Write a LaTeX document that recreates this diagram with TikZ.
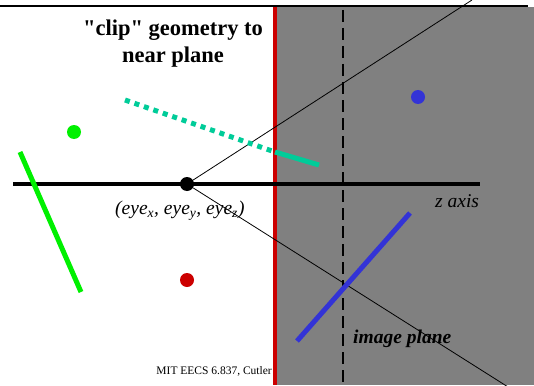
\documentclass[tikz,border=0pt]{standalone}
\usepackage{fontspec}
\setmainfont{Liberation Serif}[Ligatures=TeXOff]
\usepackage{tikz}
\usetikzlibrary{positioning}
\definecolor{planegray}{RGB}{128,128,128}
\definecolor{nearred}{RGB}{204,0,0}
\definecolor{objblue}{RGB}{51,51,214}
\definecolor{objgreen}{RGB}{0,240,0}
\definecolor{objteal}{RGB}{0,204,153}
\tikzset{
  dot/.style={circle,inner sep=0pt,minimum size=14pt},
  obj/.style={line width=5pt},
  ray/.style={line width=0.8pt},
  lbl/.style={font=\fontsize{19.5}{22}\selectfont\itshape,inner sep=0pt},
}
\begin{document}
\begin{tikzpicture}[x=1pt,y=-1pt]
\useasboundingbox (0,0) rectangle (534,385);
\fill[white] (0,0) rectangle (534,385);
% far side of the near plane
\fill[planegray] (275,7) rectangle (534,385);
\draw[line width=2pt] (0,6) -- (528,6);
% image plane
\draw[line width=2.5pt,dash pattern=on 12pt off 6pt] (343,10) -- (343,385);
% near plane
\draw[nearred,line width=4.5pt] (275,7) -- (275,385);
% z axis
\draw[line width=4.5pt] (13,184) -- (480,184);
\node[dot,fill=black] (eye) at (187,184) {};
\coordinate (rayup) at (472,0);
\coordinate (raydn) at (516,392);
\draw[ray] (eye) -- (rayup);
\draw[ray] (eye) -- (raydn);
% objects
\node[dot,fill=objgreen] (gdot) at (74,132) {};
\node[dot,fill=nearred] (rdot) at (187,280) {};
\node[dot,fill=objblue] (bdot) at (418,97) {};
\coordinate (g1) at (20,152);
\coordinate (g2) at (81,292);
\draw[obj,objgreen] (g1) -- (g2);
\coordinate (b1) at (297,341);
\coordinate (b2) at (410,213);
\draw[obj,objblue] (b1) -- (b2);
\coordinate (t1) at (125,100);
\coordinate (t2) at (275,152);
\coordinate (t3) at (319,165);
\draw[obj,objteal,dash pattern=on 5pt off 5pt] (t1) -- (t2);
\draw[obj,objteal] (t2) -- (t3);
% labels
\node[font=\fontsize{22.5}{27}\selectfont\bfseries,align=center] (title) at (173,44) {"clip" geometry to\\near plane};
\node[lbl,anchor=west] (eyelbl) at (115,211) {(eye\textsubscript{x}, eye\textsubscript{y}, eye\textsubscript{z})};
\node[lbl,anchor=west] (zlbl) at (435,201) {z axis};
\node[lbl,font=\fontsize{19.5}{22}\selectfont\bfseries\itshape,anchor=west] (imglbl) at (353,339) {image plane};
\node[font=\fontsize{11.5}{13}\selectfont,anchor=east,inner sep=0pt] (credit) at (272,371) {MIT EECS 6.837, Cutler};
\end{tikzpicture}
\end{document}
